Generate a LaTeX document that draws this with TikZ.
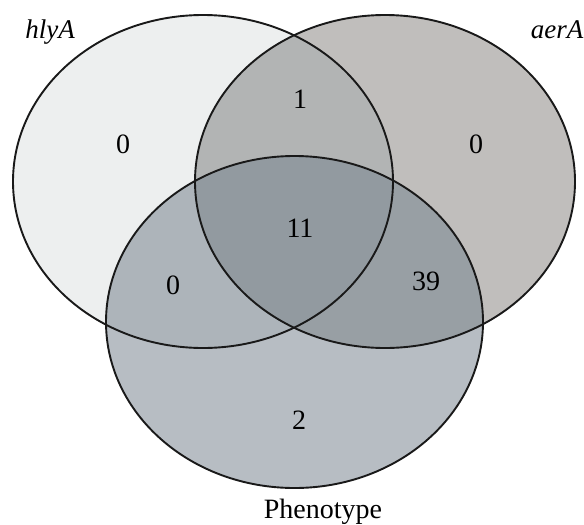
\documentclass[tikz,border=0pt]{standalone}
\usepackage{fontspec}
\setmainfont{Liberation Serif}
\definecolor{cL}{RGB}{237,239,239}
\definecolor{cR}{RGB}{192,190,188}
\definecolor{cLR}{RGB}{178,180,180}
\definecolor{cB}{RGB}{183,189,195}
\definecolor{cLB}{RGB}{173,180,186}
\definecolor{cRB}{RGB}{152,159,164}
\definecolor{cLRB}{RGB}{146,154,160}
\begin{document}
\begin{tikzpicture}[x=1pt,y=-1pt,
  lbl/.style={font=\fontsize{28}{32}\selectfont, inner sep=0pt},
  setname/.style={font=\fontsize{27}{32}\selectfont\itshape, inner sep=0pt, anchor=base},
  rim/.style={draw=black!90, line width=1.9pt}]
\useasboundingbox (0,0) rectangle (584,525);
\def\Lpath{(203,181.5) ellipse [x radius=190, y radius=166.5]}
\def\Rpath{(385,181.5) ellipse [x radius=190, y radius=166.5]}
\def\Bpath{(294.5,322) ellipse [x radius=188.5, y radius=166]}
% single regions
\fill[cL] \Lpath;
\fill[cR] \Rpath;
\begin{scope}
  \clip \Lpath;
  \fill[cLR] \Rpath;
\end{scope}
\fill[cB] \Bpath;
\begin{scope}
  \clip \Bpath;
  \fill[cLB] \Lpath;
  \fill[cRB] \Rpath;
  \clip \Lpath;
  \fill[cLRB] \Rpath;
\end{scope}
% outlines
\draw[rim] \Lpath;
\draw[rim] \Rpath;
\draw[rim] \Bpath;
% labels
\node[setname] (hly) at (50,38) {hlyA};
\node[setname] (aer) at (557,38) {aerA};
\node[lbl, anchor=base] (phen) at (323,518) {Phenotype};
% counts
\node[lbl] (nL) at (123,144) {0};
\node[lbl] (nR) at (476,144) {0};
\node[lbl] (nLR) at (300,99) {1};
\node[lbl] (nLRB) at (300,228) {11};
\node[lbl] (nLB) at (173,285) {0};
\node[lbl] (nRB) at (426,281) {39};
\node[lbl] (nB) at (299,420) {2};
\end{tikzpicture}
\end{document}
